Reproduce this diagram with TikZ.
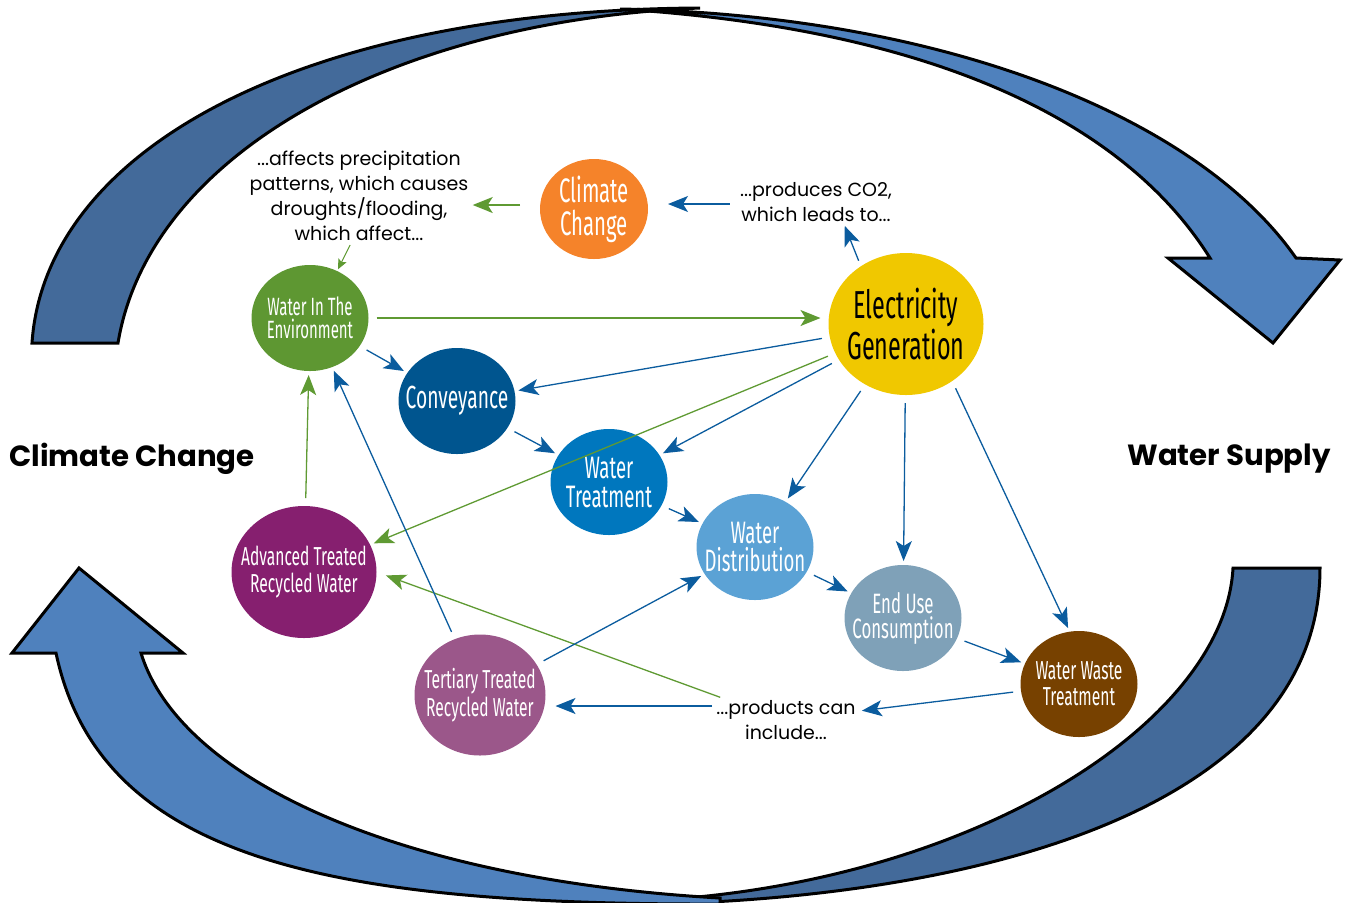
\documentclass[tikz,border=0pt]{standalone}
\usepackage{fontspec}
\setmainfont{Poppins}
\newfontfamily\cond[FakeStretch=0.6]{Fira Sans}
\newfontfamily\txtfont{Poppins}
\newfontfamily\boldfont{Poppins Bold}
\usetikzlibrary{shapes.geometric,arrows.meta}
\definecolor{cOrange}{HTML}{F5832A}
\definecolor{cGreen}{HTML}{5E9732}
\definecolor{cYellow}{HTML}{F0C800}
\definecolor{cConv}{HTML}{00558F}
\definecolor{cTreat}{HTML}{0077BE}
\definecolor{cDist}{HTML}{5BA2D5}
\definecolor{cEnd}{HTML}{7FA1B8}
\definecolor{cWaste}{HTML}{774100}
\definecolor{cAdv}{HTML}{861F6F}
\definecolor{cTert}{HTML}{9B578A}
\definecolor{aBlue}{HTML}{0B5C9E}
\definecolor{aGreen}{HTML}{5F9A33}
\definecolor{cDark}{HTML}{436A9A}
\definecolor{cLight}{HTML}{4F81BD}
\begin{document}
\begin{tikzpicture}[x=0.5pt,y=-0.5pt,
  circ/.style={ellipse, inner sep=0pt, outer sep=0pt},
  lab/.style={text=white, align=center, inner sep=0pt},
  conn/.style={line width=0.65pt, shorten <=4pt, shorten >=2pt,
    -{Stealth[length=10pt,width=8pt,inset=2.5pt]}},
  bl/.style={conn, draw=aBlue},
  gr/.style={conn, draw=aGreen},
  txt/.style={align=center, font=\txtfont\fontsize{9.5pt}{12.5pt}\selectfont, inner sep=1pt},
  side/.style={font=\boldfont\fontsize{14.6pt}{18pt}\selectfont, inner sep=0pt},
  bigarrow/.style={draw=black, line width=1.5pt, line join=miter}]
\useasboundingbox (0,0) rectangle (1345,902);
\begin{scope}
\clip (0,0) rectangle (1345,902);
% top arrow
\filldraw[fill=cDark, bigarrow] (32,343) .. controls (45,150) and (300,10) .. (700,8)
  .. controls (400,20) and (150,150) .. (118,343) -- cycle;
\filldraw[fill=cLight, bigarrow] (620,9) .. controls (950,15) and (1200,120) .. (1296,258)
  -- (1340,260) -- (1273,343) -- (1168,258) -- (1210,258)
  .. controls (1130,130) and (950,30) .. (620,9) -- cycle;
% bottom arrow
\filldraw[fill=cDark, bigarrow] (1320,568) .. controls (1320,800) and (1000,895) .. (660,904)
  -- (660,900) .. controls (980,880) and (1225,720) .. (1233,568) -- cycle;
\filldraw[fill=cLight, bigarrow] (56,653) .. controls (100,860) and (330,905) .. (720,904)
  -- (720,898) .. controls (400,880) and (180,780) .. (141,653)
  -- (183,653) -- (79,568) -- (12,653) -- cycle;
\end{scope}

% side labels
\node[side] (lcc) at (132,459) {Climate Change};
\node[side] (lws) at (1229,459) {Water Supply};

% text nodes
\node[txt] (aff) at (359,196) {...affects precipitation\\patterns, which causes\\droughts/flooding,\\which affect...};
\node[txt] (co2) at (816,202) {...produces CO2,\\which leads to...};
\node[txt] (prod) at (786,720) {...products can\\include...};

% circles
\node[circ, fill=cOrange, minimum width=54pt, minimum height=50pt,
  label={[lab, font=\cond\fontsize{17pt}{16.5pt}\selectfont]center:Climate\\Change}] (cc) at (594,209) {};
\node[circ, fill=cGreen, minimum width=58.5pt, minimum height=53pt,
  label={[lab, font=\cond\fontsize{12.5pt}{11.5pt}\selectfont]center:Water In The\\Environment}] (env) at (310,318) {};
\node[circ, fill=cYellow, minimum width=77.5pt, minimum height=71pt,
  label={[lab, text=black, font=\cond\fontsize{19.5pt}{18pt}\selectfont]center:Electricity\\Generation}] (elec) at (906,324) {};
\node[circ, fill=cConv, minimum width=58.5pt, minimum height=53pt,
  label={[lab, font=\cond\fontsize{16pt}{14pt}\selectfont]center:Conveyance}] (conv) at (457,401) {};
\node[circ, fill=cTreat, minimum width=58.5pt, minimum height=53pt,
  label={[lab, font=\cond\fontsize{15.5pt}{14.5pt}\selectfont]center:Water\\Treatment}] (wt) at (609,482) {};
\node[circ, fill=cDist, minimum width=58.5pt, minimum height=53pt,
  label={[lab, font=\cond\fontsize{15.5pt}{14pt}\selectfont]center:Water\\Distribution}] (wd) at (755,547) {};
\node[circ, fill=cEnd, minimum width=58.5pt, minimum height=53pt,
  label={[lab, font=\cond\fontsize{14pt}{12.5pt}\selectfont]center:End Use\\Consumption}] (eu) at (903,618) {};
\node[circ, fill=cWaste, minimum width=58.5pt, minimum height=53pt,
  label={[lab, font=\cond\fontsize{13pt}{13pt}\selectfont]center:Water Waste\\Treatment}] (ww) at (1079,684) {};
\node[circ, fill=cAdv, minimum width=72.5pt, minimum height=66pt,
  label={[lab, font=\cond\fontsize{13pt}{13.5pt}\selectfont]center:Advanced Treated\\Recycled Water}] (adv) at (304,572) {};
\node[circ, fill=cTert, minimum width=65.5pt, minimum height=60.5pt,
  label={[lab, font=\cond\fontsize{13pt}{14pt}\selectfont]center:Tertiary Treated\\Recycled Water}] (tert) at (480,695) {};

% connectors
\draw[gr, shorten <=10pt, shorten >=1pt] ([yshift=2pt]cc.west) -- ([yshift=2pt]cc.west -| aff.east);
\draw[bl, shorten <=4pt, shorten >=10pt] ([yshift=-1pt]co2.west) -- ([yshift=-1pt]co2.west -| cc.east);
\draw[bl, shorten <=3pt, shorten >=1pt] (elec.128) -- ([xshift=14pt]co2.south);
\draw[gr, shorten <=1pt, shorten >=1pt, -{Stealth[length=5pt,width=4.5pt,inset=1pt]}, line width=0.5pt]
  ([xshift=-4pt]aff.south) -- (env.60);
\draw[gr, shorten >=4pt] (env) -- (env -| elec.west);
\draw[bl] (env) -- (conv);
\draw[bl] (elec) -- (conv);
\draw[gr] (elec) -- (adv);
\draw[bl] (elec) -- (wt);
\draw[bl] (elec) -- (wd);
\draw[bl] (elec) -- (eu);
\draw[bl] (elec.-51) -- (ww.100);
\draw[bl] (conv) -- (wt);
\draw[bl] (wt) -- (wd);
\draw[bl] (wd) -- (eu);
\draw[bl] (eu) -- (ww);
\draw[bl] (ww) -- (prod);
\draw[bl, shorten <=1pt, shorten >=5pt] ([yshift=7pt]prod.west) -- ([yshift=7pt]prod.west -| tert.east);
\draw[gr, shorten <=1pt, shorten >=5pt] ([xshift=4pt]prod.north west) -- (adv.east);
\draw[bl] (tert) -- (wd);
\draw[bl] (tert) -- (env);
\draw[gr] (adv) -- (env);
\end{tikzpicture}
\end{document}
